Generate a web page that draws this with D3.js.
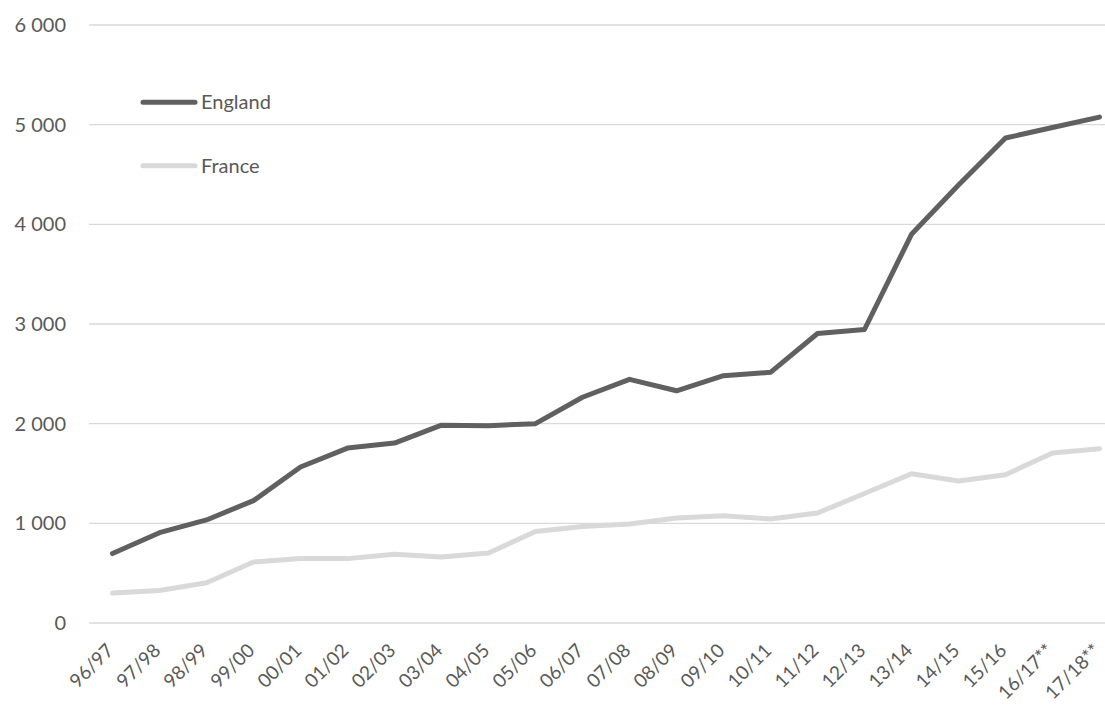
<!DOCTYPE html>
<html>
<head>
<meta charset="utf-8">
<script src="https://cdn.jsdelivr.net/npm/d3@7"></script>
<style>
  html, body { margin: 0; padding: 0; background: #fff; }
  svg text { font-family: Lato, "Open Sans", sans-serif; fill: #595959; }
</style>
</head>
<body>
<svg id="chart" width="1105" height="711"></svg>
<script>
const categories = ["96/97","97/98","98/99","99/00","00/01","01/02","02/03","03/04","04/05","05/06","06/07","07/08","08/09","09/10","10/11","11/12","12/13","13/14","14/15","15/16","16/17**","17/18**"];
const england = [697, 906, 1034, 1228, 1565, 1755, 1805, 1985, 1980, 2000, 2265, 2445, 2330, 2481, 2515, 2905, 2945, 3900, 4395, 4866, 4972, 5076];
const france  = [300, 327, 404, 612, 646, 646, 690, 662, 703, 918, 968, 993, 1053, 1075, 1043, 1103, 1300, 1498, 1424, 1488, 1706, 1749];
const yTicks = [0, 1000, 2000, 3000, 4000, 5000, 6000];
const seriesNames = ["England", "France"];

const svg = d3.select("#chart");
const x = d3.scalePoint().domain(categories).range([89, 1123]).padding(0.5);
const y = d3.scaleLinear().domain([0, 6000]).range([623, 25]);
const fmt = v => d3.format(",")(v).replace(/,/g, " ");

// gridlines
svg.append("g").selectAll("line").data(yTicks).join("line")
  .attr("x1", 89).attr("x2", 1105)
  .attr("y1", d => y(d)).attr("y2", d => y(d))
  .attr("stroke", "#d9d9d9").attr("stroke-width", 1.3);

// y axis labels
const yAxis = d3.axisLeft(y).tickValues(yTicks).tickFormat(fmt).tickSize(0).tickPadding(0);
const gy = svg.append("g").attr("transform", "translate(66,0)").call(yAxis);
gy.select(".domain").remove();
gy.selectAll("text").attr("font-size", 20).attr("fill", "#595959")
  .style("font-family", "Lato, 'Open Sans', sans-serif");

// x axis labels
const xAxis = d3.axisBottom(x).tickSize(0).tickPadding(0);
const gx = svg.append("g").attr("transform", "translate(0,647)").call(xAxis);
gx.select(".domain").remove();
gx.selectAll("text")
  .attr("font-size", 19).attr("fill", "#595959")
  .style("font-family", "Lato, 'Open Sans', sans-serif")
  .attr("text-anchor", "end")
  .attr("dy", "0.35em").attr("y", 0).attr("x", 0)
  .attr("transform", "translate(-3,0) rotate(-45)");

const colors = { England: "#606060", France: "#d9d9d9" };
const data = { England: england, France: france };
const line = d3.line().x((d, i) => x(categories[i])).y(d => y(d));

// draw France first then England on top
["France", "England"].forEach(name => {
  svg.append("path").datum(data[name])
    .attr("d", line)
    .attr("fill", "none")
    .attr("stroke", colors[name])
    .attr("stroke-width", 5)
    .attr("stroke-linejoin", "round")
    .attr("stroke-linecap", "round");
});

// legend
const legendY = [102.3, 165.7];
seriesNames.forEach((name, i) => {
  const g = svg.append("g");
  g.append("line").attr("x1", 143).attr("x2", 195)
    .attr("y1", legendY[i]).attr("y2", legendY[i])
    .attr("stroke", colors[name]).attr("stroke-width", 5)
    .attr("stroke-linecap", "round");
  g.append("text").attr("x", 201).attr("y", legendY[i]).attr("dy", "0.35em")
    .attr("font-size", 20).text(name);
});
</script>
</body>
</html>
